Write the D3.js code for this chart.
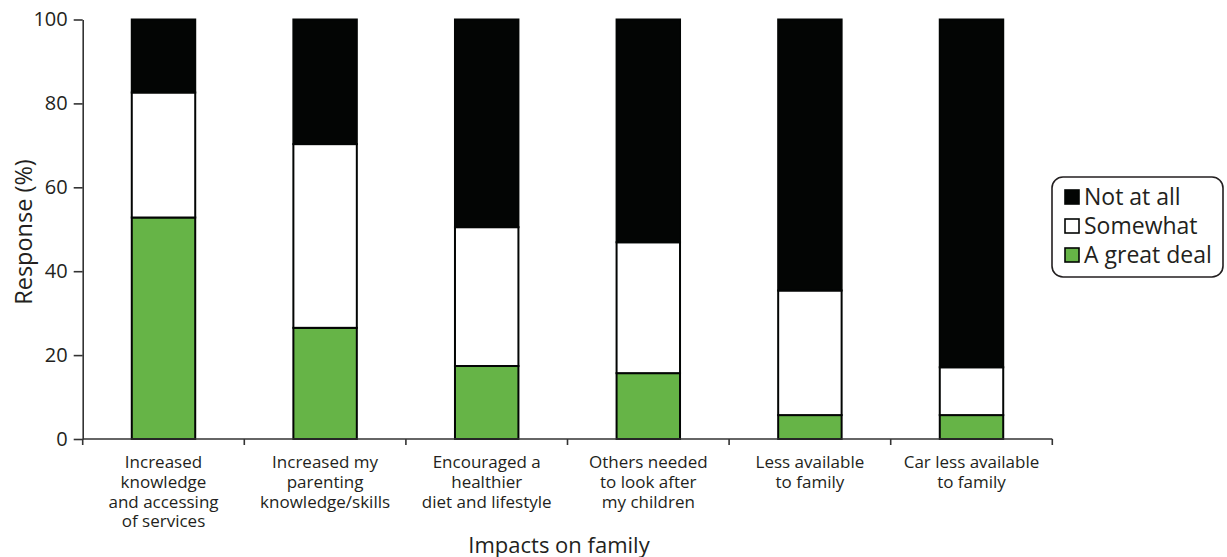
<!DOCTYPE html>
<html>
<head>
<meta charset="utf-8">
<script src="https://cdn.jsdelivr.net/npm/d3@7"></script>
<style>
  html, body { margin: 0; padding: 0; background: #fff; }
  svg { display: block; font-family: "Open Sans", "Noto Sans", sans-serif; }
</style>
</head>
<body>
<svg id="chart" width="1227" height="557"></svg>
<script>
const categories = [
  ["Increased", "knowledge", "and accessing", "of services"],
  ["Increased my", "parenting", "knowledge/skills"],
  ["Encouraged a", "healthier", "diet and lifestyle"],
  ["Others needed", "to look after", "my children"],
  ["Less available", "to family"],
  ["Car less available", "to family"]
];
const seriesNames = ["A great deal", "Somewhat", "Not at all"];
const greatDeal = [52.8, 26.5, 17.4, 15.7, 5.7, 5.7];
const somewhat = [29.8, 43.8, 33.1, 31.2, 29.7, 11.4];
const notAtAll = [17.4, 29.7, 49.5, 53.1, 64.6, 82.9];
const yTicks = [0, 20, 40, 60, 80, 100];
const colors = { "A great deal": "#66b447", "Somewhat": "#ffffff", "Not at all": "#030504" };

const svg = d3.select("#chart");
const keys = categories.map((c, i) => "c" + i);
const rows = keys.map((k, i) => ({ key: k, "A great deal": greatDeal[i], "Somewhat": somewhat[i], "Not at all": notAtAll[i] }));

const x = d3.scaleBand().domain(keys).range([82.7, 1052.3]).paddingInner(0.595).paddingOuter(0.2975);
const y = d3.scaleLinear().domain([0, 100]).range([439, 19.5]);

const stacked = d3.stack().keys(seriesNames)(rows);

// bars
const g = svg.append("g");
stacked.forEach(layer => {
  g.selectAll(null).data(layer).enter().append("rect")
    .attr("x", d => x(d.data.key) + 1)
    .attr("width", x.bandwidth() - 2)
    .attr("y", d => y(d[1]))
    .attr("height", d => y(d[0]) - y(d[1]))
    .attr("fill", colors[layer.key])
    .attr("stroke", "#030504")
    .attr("stroke-width", 2);
});

// y axis
const yAxis = svg.append("g").attr("transform", "translate(82.7,0)")
  .call(d3.axisLeft(y).tickValues(yTicks).tickSize(9).tickPadding(6).tickSizeOuter(0));
yAxis.select(".domain").attr("stroke", "#333").attr("stroke-width", 1.6);
yAxis.selectAll(".tick line").attr("stroke", "#333").attr("stroke-width", 1.6);
yAxis.selectAll(".tick text").attr("font-size", 20).attr("fill", "#231f20").attr("font-family", "Open Sans");

// x axis
const xAxis = svg.append("g").attr("transform", "translate(0,439)")
  .call(d3.axisBottom(x).tickSize(0).tickFormat(""));
xAxis.select(".domain").attr("stroke", "#333").attr("stroke-width", 1.6)
  .attr("d", "M82.7,0H1052.3");
const step = x.step();
const boundaries = d3.range(keys.length + 1).map(i => 82.7 + i * step);
xAxis.selectAll(".bnd").data(boundaries).enter().append("line")
  .attr("x1", d => d).attr("x2", d => d).attr("y1", 0).attr("y2", 6)
  .attr("stroke", "#333").attr("stroke-width", 1.6);

// category labels
categories.forEach((lines, i) => {
  lines.forEach((ln, j) => {
    svg.append("text")
      .attr("x", x(keys[i]) + x.bandwidth() / 2)
      .attr("y", 468 + j * 19.8)
      .attr("text-anchor", "middle")
      .attr("font-size", 17)
      .attr("fill", "#231f20")
      .text(ln);
  });
});

// axis titles
svg.append("text").attr("x", 559).attr("y", 553).attr("text-anchor", "middle")
  .attr("font-size", 22).attr("fill", "#231f20").text("Impacts on family");
svg.append("text").attr("transform", "translate(32,232) rotate(-90)").attr("text-anchor", "middle")
  .attr("font-size", 23.5).attr("fill", "#231f20").text("Response (%)");

// legend
const legend = svg.append("g");
legend.append("rect").attr("x", 1052).attr("y", 177).attr("width", 171).attr("height", 100)
  .attr("rx", 11).attr("ry", 11).attr("fill", "#fff").attr("stroke", "#231f20").attr("stroke-width", 1.6);
const legendOrder = ["Not at all", "Somewhat", "A great deal"];
legendOrder.forEach((name, i) => {
  legend.append("rect").attr("x", 1065).attr("y", 190 + i * 29).attr("width", 14).attr("height", 14)
    .attr("fill", colors[name]).attr("stroke", "#030504").attr("stroke-width", 1.6);
  legend.append("text").attr("x", 1084).attr("y", 204.5 + i * 29).attr("font-size", 23)
    .attr("fill", "#231f20").text(name);
});
</script>
</body>
</html>
